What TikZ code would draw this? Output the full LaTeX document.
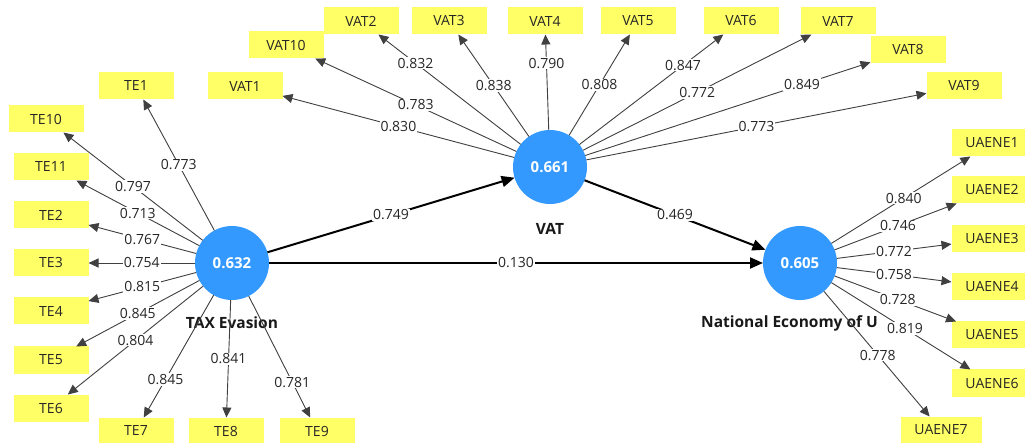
\documentclass[tikz,border=0pt]{standalone}
\usepackage{fontspec}
\setmainfont{Open Sans}
\usetikzlibrary{arrows.meta}
\definecolor{lvblue}{HTML}{3399FF}
\definecolor{indyel}{HTML}{FFFF66}
\definecolor{txt}{HTML}{262626}
\begin{document}
\begin{tikzpicture}[x=1pt,y=-1pt,
 ind/.style={fill=indyel, minimum width=75pt, minimum height=27pt, inner sep=0pt, outer sep=0pt, text=txt, font=\fontsize{14}{15}\selectfont},
 indw/.style={ind, minimum width=81pt},
 lv/.style={circle, fill=lvblue, minimum size=74pt, inner sep=0pt, outer sep=0pt, text=white, font=\bfseries\fontsize{15}{17}\selectfont},
 lvname/.style={font=\bfseries\fontsize{15.5}{17}\selectfont, text=black!90},
 meas/.style={draw=black!75, line width=0.9pt, -{Triangle[length=10pt,width=9pt]}},
 struct/.style={draw=black, line width=2pt, -{Triangle[length=13pt,width=11pt]}},
 wt/.style={fill=white, inner sep=1pt, text=txt, font=\fontsize{14}{15}\selectfont}
]
\fill[white] (0,0) rectangle (1025,443);
\useasboundingbox (0,0) rectangle (1025,443);

% latent variables
\node[lv] (te) at (232,263) {0.632};
\node[lv] (vat) at (550,167) {0.661};
\node[lv] (ne) at (800,263) {0.605};
\node[lvname] (tename) at (232,323) {TAX Evasion};
\node[lvname] (vatname) at (550,229) {VAT};
\node[lvname, anchor=west, inner sep=0pt] (nename) at (701,323) {National Economy of U};

% TE indicators
\node[ind] (te1) at (136,86) {TE1};
\node[ind] (te10) at (46,119) {TE10};
\node[ind] (te11) at (51,167) {TE11};
\node[ind] (te2) at (51,215) {TE2};
\node[ind] (te3) at (51,263) {TE3};
\node[ind] (te4) at (51,311) {TE4};
\node[ind] (te5) at (51,360) {TE5};
\node[ind] (te6) at (51,408) {TE6};
\node[ind] (te7) at (136,431) {TE7};
\node[ind] (te8) at (226,431) {TE8};
\node[ind] (te9) at (317,431) {TE9};

% VAT indicators
\node[ind] (vat1) at (245,86) {VAT1};
\node[ind] (vat10) at (286,45) {VAT10};
\node[ind] (vat2) at (361,21) {VAT2};
\node[ind] (vat3) at (449,21) {VAT3};
\node[ind] (vat4) at (545,21) {VAT4};
\node[ind] (vat5) at (638,21) {VAT5};
\node[ind] (vat6) at (741,21) {VAT6};
\node[ind] (vat7) at (838,21) {VAT7};
\node[ind] (vat8) at (908,50) {VAT8};
\node[ind] (vat9) at (964,86) {VAT9};

% UAENE indicators
\node[indw] (u1) at (992,143) {UAENE1};
\node[indw] (u2) at (992,190) {UAENE2};
\node[indw] (u3) at (992,239) {UAENE3};
\node[indw] (u4) at (992,287) {UAENE4};
\node[indw] (u5) at (992,335) {UAENE5};
\node[indw] (u6) at (992,383) {UAENE6};
\node[indw] (u7) at (941,430) {UAENE7};

% edges
\def\edgelist{te/te1/0.773/0.5, te/te10/0.797/0.5, te/te11/0.713/0.5, te/te2/0.767/0.5,
 te/te3/0.754/0.5, te/te4/0.815/0.5, te/te5/0.845/0.5, te/te6/0.804/0.5,
 te/te7/0.845/0.69, te/te8/0.841/0.5, te/te9/0.781/0.71,
 vat/vat1/0.830/0.5, vat/vat10/0.783/0.5, vat/vat2/0.832/0.74, vat/vat3/0.838/0.5,
 vat/vat4/0.790/0.70, vat/vat5/0.808/0.5, vat/vat6/0.847/0.72, vat/vat7/0.772/0.5,
 vat/vat8/0.849/0.76, vat/vat9/0.773/0.5,
 ne/u1/0.840/0.52, ne/u2/0.746/0.52, ne/u3/0.772/0.5, ne/u4/0.758/0.5,
 ne/u5/0.728/0.52, ne/u6/0.819/0.53, ne/u7/0.778/0.51}
\foreach \a/\b/\v/\p in \edgelist { \draw[meas] (\a) -- (\b); }
\draw[struct] (te) -- (vat);
\draw[struct] (vat) -- (ne);
\draw[struct] (te) -- (ne);
\foreach \a/\b/\v/\p in \edgelist { \path (\a) -- node[wt,pos=\p] {\v} (\b); }
\path (te) -- node[wt] {0.749} (vat);
\path (vat) -- node[wt] {0.469} (ne);
\path (te) -- node[wt] {0.130} (ne);
\end{tikzpicture}
\end{document}
